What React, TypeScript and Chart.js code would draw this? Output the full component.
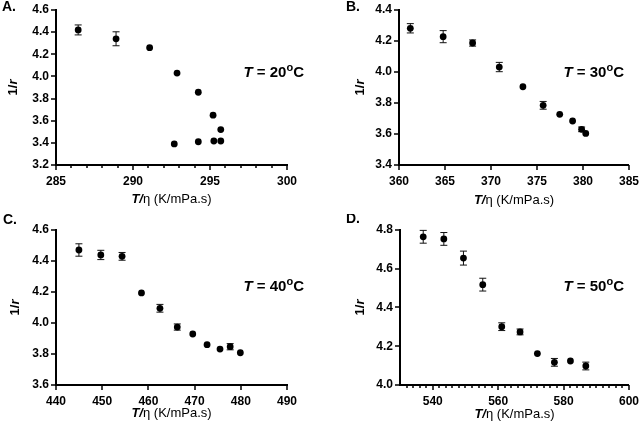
import React, { useEffect, useRef } from 'react';
import { Chart, registerables } from 'chart.js';
Chart.register(...registerables);

const FONT = '"Liberation Sans", Arial, sans-serif';

// Panel A (T = 20 °C)
const xA = [286.44, 288.9, 291.08, 292.86, 294.24, 295.2, 295.7, 292.68, 294.24, 295.25, 295.7];
const yA = [4.42, 4.34, 4.26, 4.03, 3.857, 3.65, 3.52, 3.39, 3.41, 3.417, 3.417];
const eA = [0.045, 0.063, 0, 0, 0, 0, 0, 0, 0, 0, 0];
const xMajorA = [285, 290, 295, 300];
const xMinorA = [286, 287, 288, 289, 291, 292, 293, 294, 296, 297, 298, 299];

// Panel B (T = 30 °C)
const xB = [361.23, 364.8, 368.0, 370.9, 373.47, 375.67, 377.47, 378.87, 379.85, 380.3];
const yB = [4.282, 4.228, 4.187, 4.032, 3.905, 3.785, 3.727, 3.684, 3.63, 3.604];
const eB = [0.03, 0.039, 0.02, 0.03, 0, 0.025, 0, 0, 0.015, 0];
const xMajorB = [360, 365, 370, 375, 380, 385];
const xMinorB: number[] = [];

// Panel C (T = 40 °C)
const xC = [444.96, 449.7, 454.3, 458.5, 462.5, 466.25, 469.6, 472.7, 475.5, 477.7, 479.9];
const yC = [4.471, 4.439, 4.43, 4.194, 4.095, 3.974, 3.929, 3.86, 3.832, 3.847, 3.808];
const eC = [0.04, 0.03, 0.025, 0, 0.025, 0.02, 0, 0, 0, 0.02, 0];
const xMajorC = [440, 450, 460, 470, 480, 490];
const xMinorC: number[] = [];

// Panel D (T = 50 °C)
const xD = [537.1, 543.4, 549.4, 555.3, 561.1, 566.7, 572.0, 577.2, 582.1, 586.8];
const yD = [4.765, 4.754, 4.655, 4.518, 4.301, 4.274, 4.162, 4.117, 4.124, 4.098];
const eD = [0.033, 0.033, 0.036, 0.033, 0.02, 0.015, 0, 0.02, 0, 0.02];
const xMajorD = [540, 560, 580, 600];
const xMinorD = [532, 534, 536, 538, 542, 544, 546, 548, 550, 552, 554, 556, 558, 562, 564, 566, 568, 570, 572, 574, 576, 578, 582, 584, 586, 588, 590, 592, 594, 596, 598];

type Run = { t: string; font: string; dy?: number };

function drawRuns(ctx: CanvasRenderingContext2D, runs: Run[], x: number, y: number, align: 'left' | 'center' | 'right') {
  let total = 0;
  const widths = runs.map((r) => {
    ctx.font = r.font;
    const w = ctx.measureText(r.t).width;
    total += w;
    return w;
  });
  let cx = align === 'left' ? x : align === 'center' ? x - total / 2 : x - total;
  ctx.textBaseline = 'middle';
  ctx.textAlign = 'left';
  runs.forEach((r, i) => {
    ctx.font = r.font;
    ctx.fillText(r.t, cx, y + (r.dy || 0));
    cx += widths[i];
  });
}

type Cfg = {
  left: number; top: number; w: number; h: number;
  x: number[]; y: number[]; e: number[];
  xMin: number; xMax: number; yMin: number; yMax: number;
  xMajor: number[]; xMinor: number[];
  yAxisW: number; padR: number; padT: number; xH: number;
  label: string; temp: string; titleDy: number; yTitleX: number; labelY: number; labelX: number;
};

function Panel({ cfg }: { cfg: Cfg }) {
  const ref = useRef<HTMLCanvasElement | null>(null);
  useEffect(() => {
    const deco = {
      id: 'deco',
      beforeDatasetsDraw(chart: any) {
        const ctx = chart.ctx as CanvasRenderingContext2D;
        const xs = chart.scales.x, ys = chart.scales.y;
        ctx.save();
        ctx.strokeStyle = '#111';
        ctx.lineWidth = 1;
        cfg.x.forEach((xv, i) => {
          const err = cfg.e[i];
          if (!err) return;
          const px = xs.getPixelForValue(xv);
          const p1 = ys.getPixelForValue(cfg.y[i] + err);
          const p2 = ys.getPixelForValue(cfg.y[i] - err);
          ctx.beginPath();
          ctx.moveTo(px, p1); ctx.lineTo(px, p2);
          ctx.moveTo(px - 3.5, p1); ctx.lineTo(px + 3.5, p1);
          ctx.moveTo(px - 3.5, p2); ctx.lineTo(px + 3.5, p2);
          ctx.stroke();
        });
        ctx.restore();
      },
      afterDraw(chart: any) {
        const ctx = chart.ctx as CanvasRenderingContext2D;
        const xs = chart.scales.x, ys = chart.scales.y;
        const a = chart.chartArea;
        ctx.save();
        ctx.strokeStyle = '#000';
        ctx.lineWidth = 1.5;
        ctx.beginPath();
        cfg.xMajor.forEach((v) => {
          const px = Math.round(xs.getPixelForValue(v));
          ctx.moveTo(px, a.bottom); ctx.lineTo(px, a.bottom + 5);
        });
        cfg.xMinor.forEach((v) => {
          const px = Math.round(xs.getPixelForValue(v));
          ctx.moveTo(px, a.bottom); ctx.lineTo(px, a.bottom + 3);
        });
        ys.ticks.forEach((t: any) => {
          const py = Math.round(ys.getPixelForValue(t.value));
          ctx.moveTo(a.left, py); ctx.lineTo(a.left - 5, py);
        });
        ctx.stroke();

        ctx.fillStyle = '#000';
        // x title
        drawRuns(ctx, [
          { t: 'T/', font: `italic bold 13px ${FONT}` },
          { t: 'η (K/mPa.s)', font: `13px ${FONT}` },
        ], (a.left + a.right) / 2, a.bottom + cfg.titleDy, 'center');
        // y title
        ctx.save();
        ctx.translate(cfg.yTitleX, (a.top + a.bottom) / 2);
        ctx.rotate(-Math.PI / 2);
        drawRuns(ctx, [
          { t: '1/', font: `bold 13px ${FONT}` },
          { t: 'r', font: `italic bold 13px ${FONT}` },
        ], 0, 0, 'center');
        ctx.restore();
        // temperature annotation
        drawRuns(ctx, [
          { t: 'T', font: `italic bold 15px ${FONT}` },
          { t: ' = ' + cfg.temp, font: `bold 15px ${FONT}` },
          { t: 'o', font: `bold 11px ${FONT}`, dy: -5 },
          { t: 'C', font: `bold 15px ${FONT}` },
        ], 304, 73, 'right');
        // panel label
        drawRuns(ctx, [{ t: cfg.label, font: `bold 14px ${FONT}` }], cfg.labelX, cfg.labelY, 'left');
        ctx.restore();
      },
    };
    const chart = new Chart(ref.current as HTMLCanvasElement, {
      type: 'scatter',
      data: {
        datasets: [{
          data: cfg.x.map((v, i) => ({ x: v, y: cfg.y[i] })),
          backgroundColor: '#000',
          borderColor: '#000',
          borderWidth: 0,
          pointRadius: 3.4,
        }],
      },
      options: {
        responsive: false,
        animation: false,
        layout: { padding: { left: 0, right: cfg.padR, top: cfg.padT, bottom: 0 } },
        plugins: { legend: { display: false }, tooltip: { enabled: false } },
        scales: {
          x: {
            type: 'linear',
            min: cfg.xMin,
            max: cfg.xMax,
            afterBuildTicks: (s: any) => { s.ticks = cfg.xMajor.map((v) => ({ value: v })); },
            afterFit: (s: any) => { s.height = cfg.xH; },
            grid: { display: true, drawOnChartArea: false, drawTicks: true, tickLength: 5, color: 'rgba(0,0,0,0)' },
            border: { display: true, color: '#000', width: 2 },
            ticks: {
              autoSkip: false, maxRotation: 0, padding: 4, color: '#000',
              font: { family: FONT, size: 12, weight: 'bold' },
              callback: (v: any) => String(v),
            },
          },
          y: {
            type: 'linear',
            min: cfg.yMin,
            max: cfg.yMax,
            afterFit: (s: any) => { s.width = cfg.yAxisW; },
            grid: { display: true, drawOnChartArea: false, drawTicks: true, tickLength: 5, color: 'rgba(0,0,0,0)' },
            border: { display: true, color: '#000', width: 2 },
            ticks: {
              stepSize: 0.2, padding: 2, color: '#000',
              font: { family: FONT, size: 12, weight: 'bold' },
              callback: (v: any) => Number(v).toFixed(1),
            },
          },
        },
      } as any,
      plugins: [deco],
    });
    return () => chart.destroy();
  }, []);
  return (
    <canvas
      ref={ref}
      width={cfg.w}
      height={cfg.h}
      style={{ position: 'absolute', left: cfg.left, top: cfg.top, width: cfg.w, height: cfg.h }}
    />
  );
}

const panels: Cfg[] = [
  { left: 0, top: 0, w: 320, h: 214, x: xA, y: yA, e: eA, xMin: 285, xMax: 300, yMin: 3.2, yMax: 4.6,
    xMajor: xMajorA, xMinor: xMinorA, yAxisW: 56, padR: 33, padT: 10, xH: 49,
    label: 'A.', temp: '20', titleDy: 34, yTitleX: 13, labelY: 7, labelX: 2 },
  { left: 320, top: 0, w: 323, h: 214, x: xB, y: yB, e: eB, xMin: 360, xMax: 385, yMin: 3.4, yMax: 4.4,
    xMajor: xMajorB, xMinor: xMinorB, yAxisW: 79, padR: 12, padT: 10, xH: 49,
    label: 'B.', temp: '30', titleDy: 35, yTitleX: 40, labelY: 7, labelX: 26 },
  { left: 0, top: 214, w: 320, h: 215, x: xC, y: yC, e: eC, xMin: 440, xMax: 490, yMin: 3.6, yMax: 4.6,
    xMajor: xMajorC, xMinor: xMinorC, yAxisW: 56, padR: 33, padT: 16, xH: 44,
    label: 'C.', temp: '40', titleDy: 28, yTitleX: 15, labelY: 6, labelX: 3 },
  { left: 320, top: 214, w: 323, h: 215, x: xD, y: yD, e: eD, xMin: 530, xMax: 600, yMin: 4.0, yMax: 4.8,
    xMajor: xMajorD, xMinor: xMinorD, yAxisW: 80, padR: 12, padT: 16, xH: 44,
    label: 'D.', temp: '50', titleDy: 29, yTitleX: 40, labelY: 5, labelX: 26 },
];

export default function App() {
  return (
    <div style={{ position: 'fixed', left: 0, top: 0, width: 643, height: 429, background: '#fff', overflow: 'hidden' }}>
      {panels.map((p) => <Panel key={p.label} cfg={p} />)}
    </div>
  );
}
